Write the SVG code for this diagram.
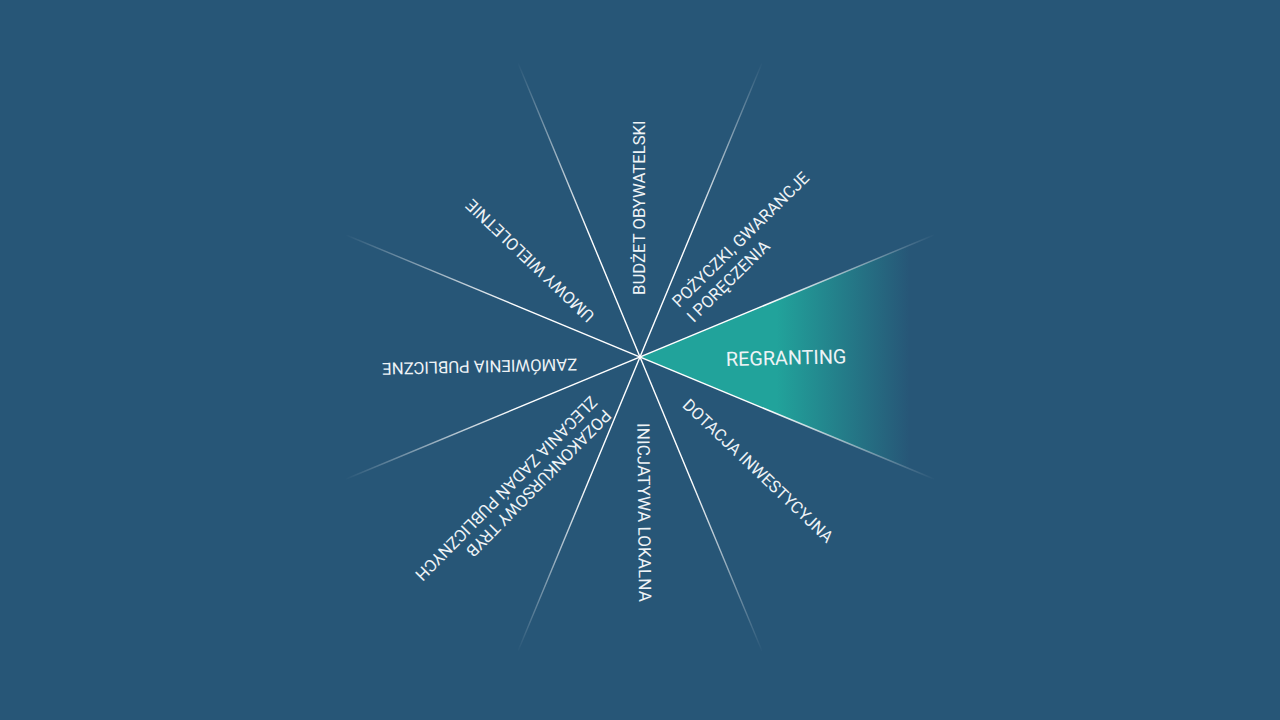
<svg xmlns="http://www.w3.org/2000/svg" width="1280" height="720" viewBox="0 0 1280 720">
  <defs>
    <style>
      .lbl { font-family: Roboto, "Liberation Sans", sans-serif; font-size: 16.7px; fill: #eef3f6; }
      .big { font-size: 19.8px; }
      .ray { stroke: #ffffff; stroke-width: 1.4; fill: none; }
    </style>
    <radialGradient id="fade" gradientUnits="userSpaceOnUse" cx="640" cy="357" r="320">
      <stop offset="0" stop-color="#fff"/>
      <stop offset="0.42" stop-color="#fff"/>
      <stop offset="1" stop-color="#000"/>
    </radialGradient>
    <mask id="rayMask" maskUnits="userSpaceOnUse" x="0" y="0" width="1280" height="720">
      <rect x="0" y="0" width="1280" height="720" fill="url(#fade)"/>
    </mask>
    <linearGradient id="teal" gradientUnits="userSpaceOnUse" x1="640" y1="0" x2="930" y2="0">
      <stop offset="0" stop-color="#21a39b"/>
      <stop offset="0.47" stop-color="#21a39b"/>
      <stop offset="0.93" stop-color="#21a39b" stop-opacity="0"/>
    </linearGradient>
  </defs>
  <rect x="0" y="0" width="1280" height="720" fill="#275677"/>

  <g id="regranting-wedge">
    <polygon points="640,357 932,236 932,478" fill="url(#teal)"/>
  </g>

  <g id="connectors" mask="url(#rayMask)">
    <line class="ray" x1="346" y1="235" x2="934" y2="479"/>
    <line class="ray" x1="934" y1="235" x2="346" y2="479"/>
    <line class="ray" x1="518" y1="63" x2="762" y2="651"/>
    <line class="ray" x1="762" y1="63" x2="518" y2="651"/>
  </g>

  <g id="budzet" transform="translate(640 357) rotate(-90)">
    <text class="lbl" x="62" y="4.5">BUDŻET OBYWATELSKI</text>
  </g>
  <g id="pozyczki" transform="translate(640 357) rotate(-44.5)">
    <text class="lbl" x="62" y="-7.5">POŻYCZKI, GWARANCJE</text>
    <text class="lbl" x="62" y="13.5">I PORĘCZENIA</text>
  </g>
  <g id="regranting" transform="translate(726 366) rotate(-1.3)">
    <text class="lbl big" x="0" y="0">REGRANTING</text>
  </g>
  <g id="dotacja" transform="translate(640 357) rotate(43.5)">
    <text class="lbl" x="64" y="7">DOTACJA INWESTYCYJNA</text>
  </g>
  <g id="inicjatywa" transform="translate(640 357) rotate(89.4)">
    <text class="lbl" x="66" y="3.5" style="font-size:17.2px">INICJATYWA LOKALNA</text>
  </g>
  <g id="pozakonkursowy" transform="translate(640 357) rotate(134.5)">
    <text class="lbl" x="62" y="-10.5">POZAKONKURSOWY TRYB</text>
    <text class="lbl" x="62" y="9">ZLECANIA ZADAŃ PUBLICZNYCH</text>
  </g>
  <g id="zamowienia" transform="translate(640 357) rotate(178.7)">
    <text class="lbl" x="63" y="0">ZAMÓWIENIA PUBLICZNE</text>
  </g>
  <g id="umowy" transform="translate(640 357) rotate(-136.5)">
    <text class="lbl" x="61.5" y="0">UMOWY WIELOLETNIE</text>
  </g>
</svg>
